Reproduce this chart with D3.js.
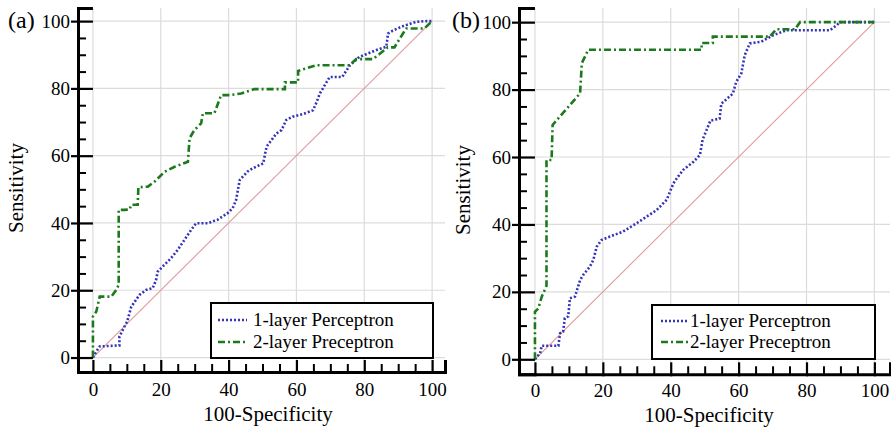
<!DOCTYPE html>
<html>
<head>
<meta charset="utf-8">
<style>
  body { margin: 0; background: #fff; }
</style>
</head>
<body>
<script src="https://cdnjs.cloudflare.com/ajax/libs/d3/7.8.5/d3.min.js"></script>
<svg id="chart" width="891" height="430"></svg>
<script>

// ROC points: [100-specificity, sensitivity]
const aOneLayer = [[0,0],[1,1.8],[2,3.3],[7.8,3.6],[7.8,6.2],[9.3,9.2],[10.1,10.7],[11.3,15.1],[13.7,18.6],
  [15.7,20.1],[17.6,20.6],[18.6,23],[19.1,25.5],[21,27.5],[23,29.5],[25,32],[27,35],[29,38],[30.4,39.9],
  [33.8,39.9],[36.8,41],[39.7,42.9],[41.2,44.4],[42.2,46.8],[43.3,52.8],[45.6,55.3],[47.2,56.3],[50.2,57.7],
  [51.2,62.7],[54.1,66.6],[55.6,67.6],[57,70.6],[58.9,71.6],[62,72.4],[64.9,73.5],[65.9,75.8],[66.9,78.5],
  [69.8,83.4],[73.5,83.4],[75.7,86.8],[78.6,89.4],[83.6,91.4],[86.5,92.4],[87,96.3],[88.4,97.2],[91.4,98.5],
  [95.3,99.8],[98.3,100],[100,100]];
const aTwoLayer = [[0,0],[0,12.2],[1,13.7],[2,18.1],[5.4,18.1],[6.9,20.1],[7.6,21.6],[7.6,43.9],[9.3,43.9],
  [10.8,44],[11.3,45.4],[13.2,45.4],[13.4,50.6],[16.2,50.8],[18.2,52.3],[21.1,55.2],[24.1,56.7],[28,58.2],
  [28.5,65.2],[29.9,67.6],[31.9,69.6],[32.4,72.6],[35.8,72.6],[37.8,78],[40.3,78],[43.7,78.5],[47.6,79.8],
  [56.6,79.8],[56.6,81.8],[60.5,81.8],[60.5,85.2],[62,85.7],[65.9,86.9],[75.7,86.9],[77.6,88.7],[82.5,88.7],
  [84.5,90.2],[86.9,92.2],[88.9,92.2],[90.4,94.7],[91.9,97.1],[92.4,97.8],[97.7,97.8],[100,100]];

const bOneLayer = [[0,0],[1.5,1.8],[2,4],[6.9,4],[7.4,7.7],[8.3,8.2],[8.8,12.2],[9.8,12.7],[10.3,18.1],
  [11.8,18.6],[13.3,23.5],[14.2,25],[16.2,27.5],[17.2,29.5],[18.2,33.4],[19.6,35.4],[22.1,36.4],[26,37.9],
  [30,40.4],[32.9,42.3],[35.9,44.3],[38.8,47.3],[40.8,52.2],[41.8,53.7],[43.7,56.2],[46.7,58.6],[48.6,60.6],
  [49.4,65.2],[51.7,70.8],[54.4,71.4],[54.9,75.8],[58.3,78.8],[59.3,82.3],[60.8,84.8],[61.8,90.2],[63.3,93.7],
  [66.7,94.2],[70.1,96.1],[74.1,97.6],[86.9,97.6],[88.9,99.1],[89.9,100],[100,100]];
const bTwoLayer = [[0,0],[0,14.1],[1,15.1],[2,18.6],[2.9,20.6],[3.4,21.8],[3.4,59.1],[4.9,59.1],[5.2,69.5],
  [13.3,78.9],[13.8,87.8],[15.7,91.8],[49.1,91.8],[49.1,93.8],[52.4,93.8],[52.4,95.7],[69.2,95.7],[71.1,97.9],
  [76.6,97.9],[78.1,100],[100,100]];

const seriesNames = ['1-layer Perceptron', '2-layer Preceptron'];
const majorTicks = [0, 20, 40, 60, 80, 100];
const minorTicks = [5, 10, 15, 25, 30, 35, 45, 50, 55, 65, 70, 75, 85, 90, 95];

const FONT = '"Liberation Serif", "Times New Roman", Tinos, serif';
const styles = [
  { color: '#3434b8', dash: '2,2' },
  { color: '#1c7a1c', dash: '7,3,2,3' }
];

const svg = d3.select('#chart').style('font-family', FONT);

function panel(p) {
  const x = d3.scaleLinear().domain(p.xd).range(p.xr);
  const y = d3.scaleLinear().domain(p.yd).range(p.yr);
  const left = p.xr[0], right = p.xr[1], bottom = p.yr[0], top = p.yr[1];
  const g = svg.append('g');

  // grid
  g.append('g').selectAll('line').data(majorTicks).enter().append('line')
    .attr('x1', d => x(d)).attr('x2', d => x(d)).attr('y1', top).attr('y2', bottom)
    .attr('stroke', '#dcdcdc').attr('stroke-width', 1.2);
  g.append('g').selectAll('line').data(majorTicks).enter().append('line')
    .attr('x1', left).attr('x2', right).attr('y1', d => y(d)).attr('y2', d => y(d))
    .attr('stroke', '#dcdcdc').attr('stroke-width', 1.2);

  // reference diagonal
  g.append('line')
    .attr('x1', x(0)).attr('y1', y(0)).attr('x2', x(100)).attr('y2', y(100))
    .attr('stroke', '#e09a9a').attr('stroke-width', 1.1);

  const line = d3.line().x(d => x(d[0])).y(d => y(d[1]));
  p.series.forEach((s, i) => {
    g.append('path').datum(s)
      .attr('d', line)
      .attr('fill', 'none')
      .attr('stroke', styles[i].color)
      .attr('stroke-width', 2.6)
      .attr('stroke-dasharray', styles[i].dash);
  });

  // y axis
  const ya = g.append('g').attr('transform', `translate(${left},0)`)
    .call(d3.axisLeft(y).tickValues(majorTicks).tickSizeOuter(0)
      .tickSize(-(x(0) - left)).tickPadding(8));
  ya.select('.domain').attr('stroke', '#000').attr('stroke-width', 3);
  ya.selectAll('.tick line').attr('stroke', '#000').attr('stroke-width', 2.2);
  ya.selectAll('.tick').append('line').attr('x1', 0).attr('x2', -7)
    .attr('stroke', '#000').attr('stroke-width', 2.2);
  ya.selectAll('.tick text').style('font-family', FONT).style('font-size', '19px').attr('fill', '#000');

  const ym = g.append('g').attr('transform', `translate(${left},0)`)
    .call(d3.axisLeft(y).tickValues(minorTicks).tickSize(-8).tickFormat(''));
  ym.select('.domain').remove();
  ym.selectAll('.tick line').attr('stroke', '#000').attr('stroke-width', 2);

  // x axis
  const xa = g.append('g').attr('transform', `translate(0,${bottom})`)
    .call(d3.axisBottom(x).tickValues(majorTicks).tickSizeOuter(0)
      .tickSize(-12).tickPadding(p.tickPad));
  xa.select('.domain').attr('stroke', '#000').attr('stroke-width', 3);
  xa.selectAll('.tick line').attr('stroke', '#000').attr('stroke-width', 2.2);
  xa.selectAll('.tick').append('line').attr('y1', 0).attr('y2', 2)
    .attr('stroke', '#000').attr('stroke-width', 2.2);
  xa.selectAll('.tick text').style('font-family', FONT).style('font-size', '19px').attr('fill', '#000');

  const xm = g.append('g').attr('transform', `translate(0,${bottom})`)
    .call(d3.axisBottom(x).tickValues(minorTicks).tickSize(-8).tickFormat(''));
  xm.select('.domain').remove();
  xm.selectAll('.tick line').attr('stroke', '#000').attr('stroke-width', 2);

  // titles
  g.append('text').attr('x', p.tag[0]).attr('y', p.tag[1])
    .style('font-family', FONT).style('font-size', '24px').text(p.label);
  g.append('text')
    .attr('transform', `translate(${p.ytitle[0]},${p.ytitle[1]}) rotate(-90)`)
    .attr('text-anchor', 'middle')
    .style('font-family', FONT).style('font-size', '21px').text('Sensitivity');
  g.append('text').attr('x', p.xtitle[0]).attr('y', p.xtitle[1])
    .attr('text-anchor', 'middle')
    .style('font-family', FONT).style('font-size', '21px').text('100-Specificity');

  // legend
  const L = p.legend;
  g.append('rect').attr('x', L.x).attr('y', L.y).attr('width', L.w).attr('height', L.h)
    .attr('fill', '#fff').attr('stroke', '#000').attr('stroke-width', 2);
  seriesNames.forEach((name, i) => {
    const ry = L.rows[i];
    g.append('line').attr('x1', L.s1).attr('x2', L.s2).attr('y1', ry).attr('y2', ry)
      .attr('stroke', styles[i].color).attr('stroke-width', 2.6)
      .attr('stroke-dasharray', styles[i].dash);
    g.append('text').attr('x', L.tx).attr('y', ry + 6)
      .style('font-family', FONT).style('font-size', '19px').text(name);
  });
}

panel({
  label: '(a)', tag: [8, 28],
  xd: [-4.4, 103.8], xr: [78, 445],
  yd: [-4.3, 103.9], yr: [372, 8],
  tickPad: 10.8,
  series: [aOneLayer, aTwoLayer],
  ytitle: [23, 188], xtitle: [268, 420.5],
  legend: { x: 211, y: 303, w: 222, h: 55, rows: [320, 342], s1: 218, s2: 247, tx: 253 }
});

panel({
  label: '(b)', tag: [452, 28],
  xd: [-4.7, 104.6], xr: [519, 890],
  yd: [-4.45, 104.2], yr: [374.3, 8],
  tickPad: 9.6,
  series: [bOneLayer, bTwoLayer],
  ytitle: [470, 190], xtitle: [709, 421.5],
  legend: { x: 652, y: 305, w: 223, h: 54, rows: [321, 342], s1: 661, s2: 688, tx: 690 }
});

</script>
</body>
</html>
